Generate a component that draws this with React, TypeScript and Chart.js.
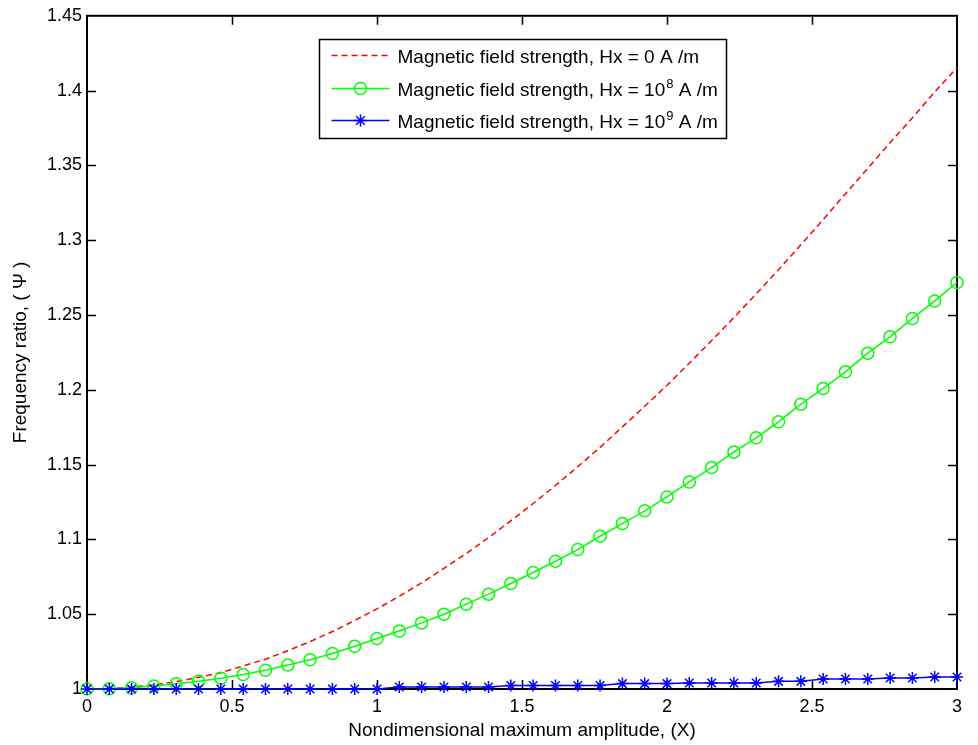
import React, { useEffect, useRef } from "react";
import { Chart, registerables } from "chart.js";

Chart.register(...registerables);

const FONT = '"Liberation Sans", Arial, Helvetica, sans-serif';

// Sample positions along the amplitude axis (40 samples from 0 to 3)
const amplitudes = [
  0, 0.0769, 0.1538, 0.2308, 0.3077, 0.3846, 0.4615, 0.5385, 0.6154, 0.6923,
  0.7692, 0.8462, 0.9231, 1.0, 1.0769, 1.1538, 1.2308, 1.3077, 1.3846, 1.4615,
  1.5385, 1.6154, 1.6923, 1.7692, 1.8462, 1.9231, 2.0, 2.0769, 2.1538, 2.2308,
  2.3077, 2.3846, 2.4615, 2.5385, 2.6154, 2.6923, 2.7692, 2.8462, 2.9231, 3.0,
];

// Hx = 0 A/m (red dashed)
const ratioH0 = [
  1.0, 1.0003, 1.0013, 1.0028, 1.0049, 1.0078, 1.0109, 1.0154, 1.0199, 1.0256,
  1.0317, 1.0384, 1.0458, 1.0536, 1.062, 1.071, 1.0806, 1.0906, 1.1012, 1.1124,
  1.124, 1.136, 1.1486, 1.1615, 1.1752, 1.189, 1.203, 1.2178, 1.2329, 1.2483,
  1.2641, 1.2803, 1.2969, 1.3138, 1.3311, 1.3481, 1.3652, 1.3818, 1.3991, 1.4153,
];

// Hx = 10^8 A/m (green circles)
const ratioH8 = [
  1.0, 1.0002, 1.0008, 1.002, 1.0035, 1.0052, 1.0072, 1.0097, 1.0125, 1.016,
  1.0195, 1.0237, 1.0286, 1.0338, 1.0388, 1.0442, 1.05, 1.0567, 1.0634, 1.0705,
  1.0779, 1.0854, 1.0932, 1.1021, 1.1106, 1.1191, 1.1284, 1.1384, 1.148, 1.1585,
  1.1679, 1.1786, 1.1904, 1.2009, 1.212, 1.2245, 1.2354, 1.2477, 1.2594, 1.2717,
];

// Hx = 10^9 A/m (blue stars)
const ratioH9 = [
  1.0, 1.0, 1.0, 1.0, 1.0, 1.0, 1.0, 1.0, 1.0, 1.0,
  1.0, 1.0, 1.0, 1.0, 1.0013, 1.0013, 1.0013, 1.0013, 1.0013, 1.0024,
  1.0024, 1.0024, 1.0024, 1.0024, 1.0036, 1.0036, 1.0036, 1.004, 1.004, 1.004,
  1.004, 1.0051, 1.0051, 1.0067, 1.0067, 1.0067, 1.0074, 1.0074, 1.008, 1.008,
];

const legendLabels = [
  "Magnetic field strength, Hx = 0 A /m",
  "Magnetic field strength, Hx = 10^8 A /m",
  "Magnetic field strength, Hx = 10^9 A /m",
];

const xTicks = [0, 0.5, 1, 1.5, 2, 2.5, 3];
const yTicks = [1, 1.05, 1.1, 1.15, 1.2, 1.25, 1.3, 1.35, 1.4, 1.45];

const xTitle = "Nondimensional maximum amplitude, (X)";
const yTitle = "Frequency ratio, ( \u03A8 )";

function splitLabel(label: string) {
  // even index = normal text, odd index = superscript
  return label.split(/\^(\d+)/);
}

const framePlugin = {
  id: "matlabFrame",
  beforeDatasetsDraw(chart: any) {
    const { ctx, chartArea, scales } = chart;
    const { left, right, top, bottom } = chartArea;
    ctx.save();
    ctx.strokeStyle = "#000";
    ctx.lineWidth = 1.5;
    const tl = 9;
    ctx.beginPath();
    xTicks.forEach((v) => {
      const px = Math.round(scales.x.getPixelForValue(v)) + 0.5;
      if (px <= left + 2 || px >= right - 2) return;
      ctx.moveTo(px, bottom);
      ctx.lineTo(px, bottom - tl);
      ctx.moveTo(px, top);
      ctx.lineTo(px, top + tl);
    });
    yTicks.forEach((v) => {
      const py = Math.round(scales.y.getPixelForValue(v)) + 0.5;
      if (py <= top + 2 || py >= bottom - 2) return;
      ctx.moveTo(left, py);
      ctx.lineTo(left + tl, py);
      ctx.moveTo(right, py);
      ctx.lineTo(right - tl, py);
    });
    ctx.stroke();
    ctx.lineWidth = 2;
    ctx.strokeRect(left, top, right - left, bottom - top);
    ctx.restore();
  },
};

const legendPlugin = {
  id: "boxLegend",
  afterDatasetsDraw(chart: any) {
    const { ctx, chartArea } = chart;
    const mainFont = `19px ${FONT}`;
    const supFont = `13px ${FONT}`;
    ctx.save();
    const measure = (label: string) => {
      let w = 0;
      splitLabel(label).forEach((part, i) => {
        ctx.font = i % 2 ? supFont : mainFont;
        w += ctx.measureText(part).width;
      });
      return w;
    };
    const widths = legendLabels.map(measure);
    const sampleStart = 12;
    const sampleLen = 58;
    const textStart = 78;
    const padRight = 10;
    const rowPitch = 32.5;
    const boxW = Math.round(textStart + Math.max(...widths) + padRight);
    const boxH = 99;
    const cx = (chartArea.left + chartArea.right) / 2;
    const bx = Math.round(cx - boxW / 2) + 0.5;
    const by = Math.round(chartArea.top + 23) + 0.5;
    ctx.fillStyle = "#fff";
    ctx.fillRect(bx, by, boxW, boxH);
    ctx.strokeStyle = "#000";
    ctx.lineWidth = 1.5;
    ctx.strokeRect(bx, by, boxW, boxH);

    chart.data.datasets.forEach((ds: any, i: number) => {
      const baseline = by + 23.5 + i * rowPitch;
      const ly = Math.round(baseline - 8) + 0.5;
      const x0 = bx + sampleStart;
      const x1 = x0 + sampleLen;
      ctx.save();
      ctx.strokeStyle = ds.borderColor;
      ctx.lineWidth = ds.borderWidth;
      ctx.setLineDash(ds.borderDash || []);
      ctx.beginPath();
      ctx.moveTo(x0, ly);
      ctx.lineTo(x1, ly);
      ctx.stroke();
      ctx.setLineDash([]);
      const mx = (x0 + x1) / 2;
      const r = ds.pointRadius || 0;
      if (r > 0) {
        ctx.lineWidth = ds.pointBorderWidth;
        ctx.strokeStyle = ds.pointBorderColor;
        ctx.beginPath();
        if (ds.pointStyle === "circle") {
          ctx.arc(mx, ly, r, 0, Math.PI * 2);
        } else {
          const d = r * Math.SQRT1_2;
          ctx.moveTo(mx, ly - r);
          ctx.lineTo(mx, ly + r);
          ctx.moveTo(mx - r, ly);
          ctx.lineTo(mx + r, ly);
          ctx.moveTo(mx - d, ly - d);
          ctx.lineTo(mx + d, ly + d);
          ctx.moveTo(mx - d, ly + d);
          ctx.lineTo(mx + d, ly - d);
        }
        ctx.stroke();
      }
      ctx.restore();

      let tx = bx + textStart;
      ctx.fillStyle = "#000";
      ctx.textBaseline = "alphabetic";
      ctx.textAlign = "left";
      splitLabel(legendLabels[i]).forEach((part, k) => {
        const sup = k % 2 === 1;
        ctx.font = sup ? supFont : mainFont;
        ctx.fillText(part, sup ? tx + 1 : tx, sup ? baseline - 8 : baseline);
        tx += ctx.measureText(part).width + (sup ? 1 : 0);
      });
    });
    ctx.restore();
  },
};

export default function App() {
  const canvasRef = useRef<HTMLCanvasElement | null>(null);

  useEffect(() => {
    const canvas = canvasRef.current;
    if (!canvas) return;
    const tickFont = { family: FONT, size: 18 };
    const titleFont = { family: FONT, size: 19 };

    const chart = new Chart(canvas, {
      type: "line",
      data: {
        datasets: [
          {
            label: legendLabels[0],
            data: amplitudes.map((x, i) => ({ x, y: ratioH0[i] })),
            borderColor: "#ff0000",
            backgroundColor: "#ff0000",
            borderWidth: 1.5,
            borderDash: [6, 4],
            pointRadius: 0,
            order: 2,
            clip: false,
          },
          {
            label: legendLabels[1],
            data: amplitudes.map((x, i) => ({ x, y: ratioH8[i] })),
            borderColor: "#00ff00",
            backgroundColor: "rgba(0,0,0,0)",
            borderWidth: 1.5,
            pointStyle: "circle",
            pointRadius: 6,
            pointBorderWidth: 1.5,
            pointBorderColor: "#00ff00",
            pointBackgroundColor: "rgba(0,0,0,0)",
            order: 1,
            clip: false,
          },
          {
            label: legendLabels[2],
            data: amplitudes.map((x, i) => ({ x, y: ratioH9[i] })),
            borderColor: "#0000ff",
            backgroundColor: "#0000ff",
            borderWidth: 1.5,
            pointStyle: "star",
            pointRadius: 6,
            pointBorderWidth: 1.5,
            pointBorderColor: "#0000ff",
            pointBackgroundColor: "#0000ff",
            order: 0,
            clip: false,
          },
        ] as any,
      },
      options: {
        responsive: false,
        animation: false,
        events: [],
        layout: { padding: { top: 15, right: 21, left: 0, bottom: 0 }, autoPadding: false } as any,
        plugins: {
          legend: { display: false },
          tooltip: { enabled: false },
        },
        scales: {
          x: {
            type: "linear",
            min: 0,
            max: 3,
            afterBuildTicks: (s: any) => {
              s.ticks = xTicks.map((v) => ({ value: v }));
            },
            afterFit: (s: any) => {
              s.height = 56;
            },
            ticks: {
              color: "#000",
              font: tickFont,
              padding: 7,
              maxRotation: 0,
              autoSkip: false,
              callback: (v: any) => String(v),
            },
            grid: { display: false, drawTicks: false },
            border: { display: false },
            title: {
              display: true,
              text: xTitle,
              color: "#000",
              font: titleFont,
              padding: { top: 0, bottom: 3 },
            },
          },
          y: {
            type: "linear",
            min: 1,
            max: 1.45,
            afterBuildTicks: (s: any) => {
              s.ticks = yTicks.map((v) => ({ value: v }));
            },
            afterFit: (s: any) => {
              s.width = 87;
            },
            ticks: {
              color: "#000",
              font: tickFont,
              padding: 5,
              autoSkip: false,
              callback: (v: any) => String(v),
            },
            grid: { display: false, drawTicks: false },
            border: { display: false },
            title: {
              display: true,
              text: yTitle,
              color: "#000",
              font: titleFont,
              padding: { top: 9, bottom: 0 },
            },
          },
        },
      } as any,
      plugins: [framePlugin, legendPlugin],
    });
    return () => chart.destroy();
  }, []);

  return (
    <div style={{ position: "absolute", left: 0, top: 0, width: 978, height: 745, background: "#fff" }}>
      <canvas ref={canvasRef} width={978} height={745} style={{ display: "block" }} />
    </div>
  );
}
